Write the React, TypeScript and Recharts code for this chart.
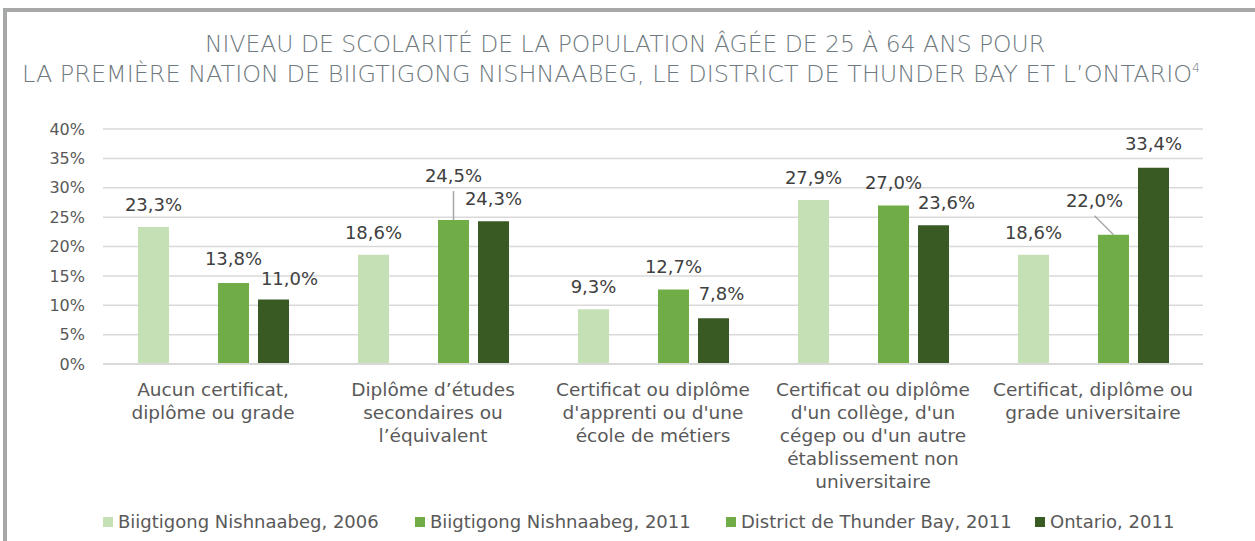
import React from 'react';
import { BarChart, Bar, XAxis, YAxis, CartesianGrid } from 'recharts';

const categories = [
  'Aucun certificat,\ndiplôme ou grade',
  'Diplôme d’études\nsecondaires ou\nl’équivalent',
  "Certificat ou diplôme\nd'apprenti ou d'une\nécole de métiers",
  "Certificat ou diplôme\nd'un collège, d'un\ncégep ou d'un autre\nétablissement non\nuniversitaire",
  'Certificat, diplôme ou\ngrade universitaire',
];

const biigtigong2006 = [23.3, 18.6, 9.3, 27.9, 18.6];
// no 2011 figures for the First Nation: the slot stays empty
const biigtigong2011: (number | null)[] = [null, null, null, null, null];
const thunderBay2011 = [13.8, 24.5, 12.7, 27.0, 22.0];
const ontario2011 = [11.0, 24.3, 7.8, 23.6, 33.4];

const yTicks = [0, 5, 10, 15, 20, 25, 30, 35, 40];

const series = [
  { key: 'biig2006', name: 'Biigtigong Nishnaabeg, 2006', color: '#C5E0B4' },
  { key: 'biig2011', name: 'Biigtigong Nishnaabeg, 2011', color: '#70AD47' },
  { key: 'thunderBay', name: 'District de Thunder Bay, 2011', color: '#70AD47' },
  { key: 'ontario', name: 'Ontario, 2011', color: '#3A5A23' },
];

const data = categories.map((cat, i) => ({
  cat,
  biig2006: biigtigong2006[i],
  biig2011: biigtigong2011[i],
  thunderBay: thunderBay2011[i],
  ontario: ontario2011[i],
}));

// label nudges where Excel moved labels to avoid overlaps
const labelNudge: Record<string, [number, number]> = {
  'thunderBay:0': [0, -2],
  'ontario:0': [16, 2],
  'thunderBay:1': [0, -22],
  'ontario:2': [8, -2],
  'ontario:3': [13, 0],
  'thunderBay:4': [-19, -12],
  'ontario:4': [0, -2],
};

// legend item left edges
const legendLefts = [103, 415, 726, 1035];

const FONT = "'DejaVu Sans', sans-serif";
const fmt = (v: number) => v.toFixed(1).replace('.', ',') + '%';

const makeLabel = (key: string) => (props: any) => {
  const { x, y, width, value, index } = props;
  if (value == null) return null;
  const [dx, dy] = labelNudge[`${key}:${index}`] ?? [0, 0];
  const cx = Number(x) + Number(width) / 2;
  const tx = cx + dx;
  const ty = Number(y) - 16 + dy;
  return (
    <g>
      {dy < -8 && (
        <line x1={tx} y1={ty + 9} x2={cx} y2={Number(y)} stroke="#A6A6A6" strokeWidth={1.5} />
      )}
      <text x={tx} y={ty} textAnchor="middle" fill="#404040" fontSize={18} fontFamily={FONT}>
        {fmt(value)}
      </text>
    </g>
  );
};

const CategoryTick = (props: any) => {
  const { x, y, payload } = props;
  const lines = String(payload.value).split('\n');
  return (
    <text x={x} y={y} textAnchor="middle" fill="#595959" fontSize={18.5} fontFamily={FONT}>
      {lines.map((l, i) => (
        <tspan key={i} x={x} dy={i === 0 ? 32 : 23}>
          {l}
        </tspan>
      ))}
    </text>
  );
};

export default function App() {
  return (
    <div
      style={{
        position: 'absolute',
        left: 0,
        top: 0,
        width: 1255,
        height: 541,
        overflow: 'hidden',
        background: '#fff',
        fontFamily: FONT,
      }}
    >
      <div
        style={{
          position: 'absolute',
          left: 3,
          top: 8,
          width: 1400,
          height: 700,
          borderTop: '4px solid #A5A8A6',
          borderLeft: '4px solid #A5A8A6',
        }}
      />
      <svg width={1255} height={100} style={{ position: 'absolute', left: 0, top: 0 }}>
        <text
          x={625}
          y={52}
          textAnchor="middle"
          fill="#6F7A80"
          fontSize={23}
          fontWeight={200}
          fontFamily={FONT}
          textLength={840}
          lengthAdjust="spacingAndGlyphs"
        >
          NIVEAU DE SCOLARITÉ DE LA POPULATION ÂGÉE DE 25 À 64 ANS POUR
        </text>
        <text
          x={611}
          y={82}
          textAnchor="middle"
          fill="#6F7A80"
          fontSize={23}
          fontWeight={200}
          fontFamily={FONT}
          textLength={1178}
          lengthAdjust="spacingAndGlyphs"
        >
          LA PREMIÈRE NATION DE BIIGTIGONG NISHNAABEG, LE DISTRICT DE THUNDER BAY ET L’ONTARIO
          <tspan fontSize={12} dy={-10}>4</tspan>
        </text>
      </svg>
      <div style={{ position: 'absolute', left: 0, top: 0 }}>
        <BarChart
          width={1255}
          height={541}
          data={data}
          margin={{ top: 129, right: 52, bottom: 147, left: 0 }}
          barSize={31}
          barGap={9}
          style={{ fontFamily: FONT }}
        >
          <CartesianGrid vertical={false} stroke="#D9D9D9" strokeWidth={1.5} />
          <XAxis
            dataKey="cat"
            height={30}
            interval={0}
            tickLine={false}
            tickSize={0}
            tickMargin={0}
            axisLine={{ stroke: '#D9D9D9', strokeWidth: 2 }}
            tick={<CategoryTick />}
          />
          <YAxis
            width={103}
            domain={[0, 40]}
            ticks={yTicks}
            interval={0}
            axisLine={false}
            tickLine={false}
            tickSize={0}
            tickMargin={18}
            tickFormatter={(v: number) => `${v}%`}
            tick={{ fill: '#595959', fontSize: 16, fontFamily: FONT }}
          />
          {series.map((s) => (
            <Bar
              key={s.key}
              dataKey={s.key}
              name={s.name}
              fill={s.color}
              isAnimationActive={false}
              label={makeLabel(s.key)}
            />
          ))}
        </BarChart>
      </div>
      {series.map((s, i) => (
        <div
          key={s.key}
          style={{
            position: 'absolute',
            left: legendLefts[i],
            top: 510,
            display: 'flex',
            alignItems: 'center',
            fontSize: 18,
            color: '#595959',
            lineHeight: '24px',
            whiteSpace: 'nowrap',
          }}
        >
          <span style={{ width: 10, height: 10, background: s.color, marginRight: 5 }} />
          <span>{s.name}</span>
        </div>
      ))}
    </div>
  );
}
